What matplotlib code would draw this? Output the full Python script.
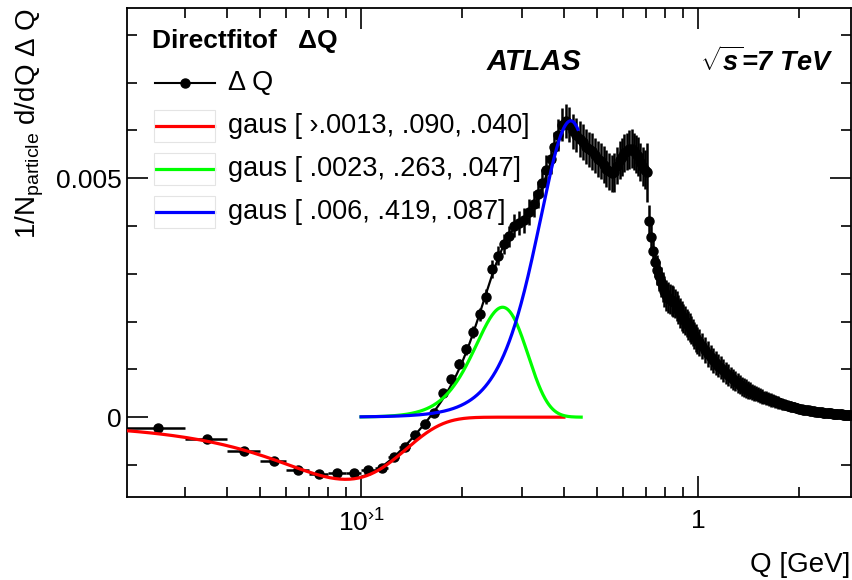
import numpy as np
import matplotlib
matplotlib.use('Agg')
import matplotlib.pyplot as plt
from matplotlib.patches import Rectangle
from matplotlib.ticker import FixedLocator, FixedFormatter, NullFormatter

plt.rcParams['font.family'] = ['Liberation Sans', 'DejaVu Sans']
plt.rcParams['mathtext.fontset'] = 'custom'
plt.rcParams['mathtext.rm'] = 'Liberation Sans'
plt.rcParams['mathtext.it'] = 'Liberation Sans:italic:bold'
plt.rcParams['mathtext.bf'] = 'Liberation Sans:bold'

# ---------------- data (bin centres) ----------------
qA = np.linspace(0.025, 0.165, 15)
vA = [-0.00022, -0.00046, -0.00070, -0.00092, -0.00111, -0.00119, -0.00117, -0.00117,
      -0.00111, -0.00107, -0.00084, -0.00063, -0.00038, -0.00015, 0.00008]
eA = [0.00004, 0.00004, 0.00004, 0.00004, 0.00004, 0.00004, 0.00004, 0.00004,
      0.00004, 0.00004, 0.00004, 0.00005, 0.00005, 0.00006, 0.00006]

qB = np.linspace(0.175, 0.395, 23)
vB = [0.00050, 0.00080, 0.00112, 0.00142, 0.00178, 0.00215, 0.00252, 0.00310, 0.00338,
      0.00362, 0.00378, 0.00400, 0.00406, 0.00412, 0.00430, 0.00446, 0.00466, 0.00490,
      0.00518, 0.00540, 0.00565, 0.00590, 0.00612]
eB = [0.00008, 0.00009, 0.00010, 0.00011, 0.00012, 0.00014, 0.00016, 0.00018, 0.00020,
      0.00021, 0.00022, 0.00024, 0.00025, 0.00026, 0.00027, 0.00028, 0.00029, 0.00030,
      0.00030, 0.00031, 0.00032, 0.00033, 0.00034]

qC = np.linspace(0.405, 0.725, 33)
vC = [0.00620, 0.00612, 0.00598, 0.00590, 0.00582, 0.00576, 0.00566, 0.00560, 0.00556,
      0.00548, 0.00540, 0.00536, 0.00528, 0.00520, 0.00514, 0.00510, 0.00512, 0.00526,
      0.00538, 0.00544, 0.00552, 0.00556, 0.00560, 0.00562, 0.00556, 0.00550, 0.00546,
      0.00534, 0.00524, 0.00518, 0.00512, 0.00410, 0.00376]
eC = [0.00036, 0.00037, 0.00037, 0.00036, 0.00037, 0.00038, 0.00037, 0.00037, 0.00038,
      0.00037, 0.00038, 0.00038, 0.00039, 0.00038, 0.00039, 0.00039, 0.00040, 0.00039,
      0.00040, 0.00039, 0.00040, 0.00039, 0.00040, 0.00040, 0.00039, 0.00040, 0.00041,
      0.00040, 0.00041, 0.00041, 0.00062, 0.00034, 0.00032]

qD = np.linspace(0.735, 0.995, 27)
vD = [0.00348, 0.00325, 0.00308, 0.00295, 0.00283, 0.00272, 0.00263, 0.00255, 0.00250,
      0.00247, 0.00244, 0.00242, 0.00238, 0.00232, 0.00225, 0.00218, 0.00212, 0.00207,
      0.00202, 0.00197, 0.00192, 0.00188, 0.00183, 0.00177, 0.00171, 0.00166, 0.00161]
eD = [0.00032, 0.00032, 0.00032, 0.00032, 0.00032, 0.00032, 0.00032, 0.00032, 0.00032,
      0.00032, 0.00032, 0.00032, 0.00031, 0.00031, 0.00031, 0.00031, 0.00031, 0.00030,
      0.00030, 0.00030, 0.00030, 0.00030, 0.00029, 0.00029, 0.00029, 0.00029, 0.00028]

qE = np.linspace(1.01, 1.59, 30)
vE = [0.00157, 0.00149, 0.00140, 0.00133, 0.00125, 0.00119, 0.00114, 0.00108, 0.00103,
      0.00098, 0.00093, 0.00088, 0.00083, 0.00079, 0.00075, 0.00071, 0.00068, 0.00065,
      0.00062, 0.00060, 0.00057, 0.00055, 0.00053, 0.00051, 0.00049, 0.00047, 0.00045,
      0.00043, 0.00041, 0.00040]
eE = [0.00028, 0.00028, 0.00027, 0.00027, 0.00026, 0.00026, 0.00025, 0.00025, 0.00024,
      0.00024, 0.00023, 0.00023, 0.00022, 0.00022, 0.00021, 0.00021, 0.00020, 0.00020,
      0.00019, 0.00019, 0.00018, 0.00018, 0.00017, 0.00017, 0.00016, 0.00016, 0.00015,
      0.00015, 0.00014, 0.00014]

qF = np.linspace(1.61, 2.85, 63)
vF = [0.00039, 0.00037, 0.00036, 0.00035, 0.00033, 0.00032, 0.00031, 0.00029, 0.00028,
      0.00027, 0.00026, 0.00025, 0.00024, 0.00023, 0.00022, 0.00022, 0.00021, 0.00020,
      0.00019, 0.00018, 0.00017, 0.00017, 0.00016, 0.00015, 0.00015, 0.00014, 0.00014,
      0.00013, 0.00013, 0.00012, 0.00012, 0.00011, 0.00011, 0.00011, 0.00010, 0.00010,
      0.00010, 0.00009, 0.00009, 0.00009, 0.00009, 0.00008, 0.00008, 0.00008, 0.00008,
      0.00007, 0.00007, 0.00007, 0.00007, 0.00006, 0.00006, 0.00006, 0.00006, 0.00006,
      0.00005, 0.00005, 0.00005, 0.00005, 0.00005, 0.00004, 0.00004, 0.00004, 0.00004]
eF = [0.00014, 0.00014, 0.00014, 0.00013, 0.00013, 0.00013, 0.00013, 0.00012, 0.00012,
      0.00012, 0.00012, 0.00011, 0.00011, 0.00011, 0.00011, 0.00010, 0.00010, 0.00010,
      0.00010, 0.00010, 0.00009, 0.00009, 0.00009, 0.00009, 0.00009, 0.00008, 0.00008,
      0.00008, 0.00008, 0.00008, 0.00008, 0.00007, 0.00007, 0.00007, 0.00007, 0.00007,
      0.00007, 0.00007, 0.00006, 0.00006, 0.00006, 0.00006, 0.00006, 0.00006, 0.00006,
      0.00006, 0.00006, 0.00005, 0.00005, 0.00005, 0.00005, 0.00005, 0.00005, 0.00005,
      0.00005, 0.00005, 0.00005, 0.00005, 0.00005, 0.00005, 0.00005, 0.00005, 0.00005]

bin_half_width = 0.005

# gaussian fit parameters [amplitude, mean, sigma] and drawing ranges
fit_red = [-0.0013, 0.090, 0.040]
fit_green = [0.0023, 0.263, 0.047]
fit_blue = [0.0062, 0.419, 0.087]
range_red = (0.02, 0.40)
range_green = (0.10, 0.45)
range_blue = (0.10, 0.44)
range_total = (0.10, 0.40)

legend_title = 'Directfitof   ΔQ'
legend_labels = ['Δ Q', 'gaus [ ›.0013, .090, .040]', 'gaus [ .0023, .263, .047]',
                 'gaus [ .006, .419, .087]']

# ---------------- figure ----------------
W, H = 852, 580
fig = plt.figure(figsize=(W / 100, H / 100), dpi=100)
def fx(p): return p / W
def fy(p): return 1 - p / H

ax = fig.add_axes([fx(127), fy(497), (851 - 127) / W, (497 - 8) / H])

q = np.concatenate([qA, qB, qC, qD, qE, qF])
v = np.concatenate([vA, vB, vC, vD, vE, vF])
e = np.concatenate([eA, eB, eC, eD, eE, eF])

ax.errorbar(q, v, xerr=bin_half_width, yerr=e, fmt='o', color='black', ms=6.5,
            elinewidth=1.8, capsize=0, zorder=2)

def gaus(x, p):
    return p[0] * np.exp(-0.5 * ((x - p[1]) / p[2]) ** 2)

xt = np.linspace(*range_total, 400)
ax.plot(xt, gaus(xt, fit_red) + gaus(xt, fit_green) + gaus(xt, fit_blue),
        color='black', lw=1.6, zorder=3)
for p, rng, col in [(fit_red, range_red, '#ff0000'), (fit_green, range_green, '#00ff00'),
                    (fit_blue, range_blue, '#0000ff')]:
    xx = np.linspace(*rng, 400)
    ax.plot(xx, gaus(xx, p), color=col, lw=2.3, zorder=4)

ax.set_xscale('log')
ax.set_xlim(0.0202, 2.845)
ax.set_ylim(-0.00167, 0.00856)

ax.xaxis.set_major_locator(FixedLocator([0.1, 1.0]))
ax.xaxis.set_major_formatter(FixedFormatter([r'$\mathregular{10^{›1}}$', '1']))
ax.xaxis.set_minor_locator(FixedLocator([0.03, 0.04, 0.05, 0.06, 0.07, 0.08, 0.09,
                                          0.2, 0.3, 0.4, 0.5, 0.6, 0.7, 0.8, 0.9, 2.0]))
ax.xaxis.set_minor_formatter(NullFormatter())
ax.yaxis.set_major_locator(FixedLocator([0.0, 0.005]))
ax.yaxis.set_major_formatter(FixedFormatter(['0', '0.005']))
ax.yaxis.set_minor_locator(FixedLocator([-0.001, 0.001, 0.002, 0.003, 0.004, 0.006,
                                          0.007, 0.008]))
ax.yaxis.set_minor_formatter(NullFormatter())

ax.tick_params(which='both', direction='in', top=True, right=True, width=1.2,
               labelsize=19, color='black')
ax.tick_params(which='major', length=15)
ax.tick_params(which='minor', length=7.5)
ax.tick_params(axis='x', which='major', pad=9)
ax.tick_params(axis='y', which='major', pad=4)
for s in ax.spines.values():
    s.set_linewidth(1.3)

# axis titles
fig.text(fx(30), fy(8), r'1/N$_{\mathregular{particle}}$ d/dQ Δ Q', rotation=90,
         ha='center', va='top', fontsize=20)
fig.text(fx(850), fy(565), 'Q [GeV]', ha='right', va='center', fontsize=20)

# labels
fig.text(fx(487), fy(62), 'ATLAS', fontweight='bold', fontstyle='italic',
         fontsize=21, va='center')
fig.text(fx(700), fy(62), r'$\sqrt{s}$=7 TeV', fontweight='bold', fontstyle='italic',
         fontsize=19.5, va='center')

# legend (manual, ROOT style)
fig.text(fx(152), fy(41), legend_title, fontweight='bold', fontsize=19, va='center')
ax.plot([fx(155), fx(215)], [fy(83), fy(83)], color='black', lw=1.5,
        transform=fig.transFigure, clip_on=False)
ax.plot([fx(185)], [fy(83)], 'o', color='black', ms=6.5,
        transform=fig.transFigure, clip_on=False)
fig.text(fx(228), fy(83), legend_labels[0], fontsize=19.5, va='center')
for yc, col, lab in [(126, '#ff0000', legend_labels[1]), (169, '#00ff00', legend_labels[2]),
                     (212, '#0000ff', legend_labels[3])]:
    fig.add_artist(Rectangle((fx(154), fy(yc + 16)), (215 - 154) / W, 32 / H,
                             transform=fig.transFigure, facecolor='none',
                             edgecolor='#e4e4e4', lw=0.8))
    ax.plot([fx(156), fx(214)], [fy(yc), fy(yc)], color=col, lw=2.3,
            transform=fig.transFigure, clip_on=False)
    fig.text(fx(228), fy(yc), lab, fontsize=19.5, va='center')

fig.savefig('out.png', dpi=100)
